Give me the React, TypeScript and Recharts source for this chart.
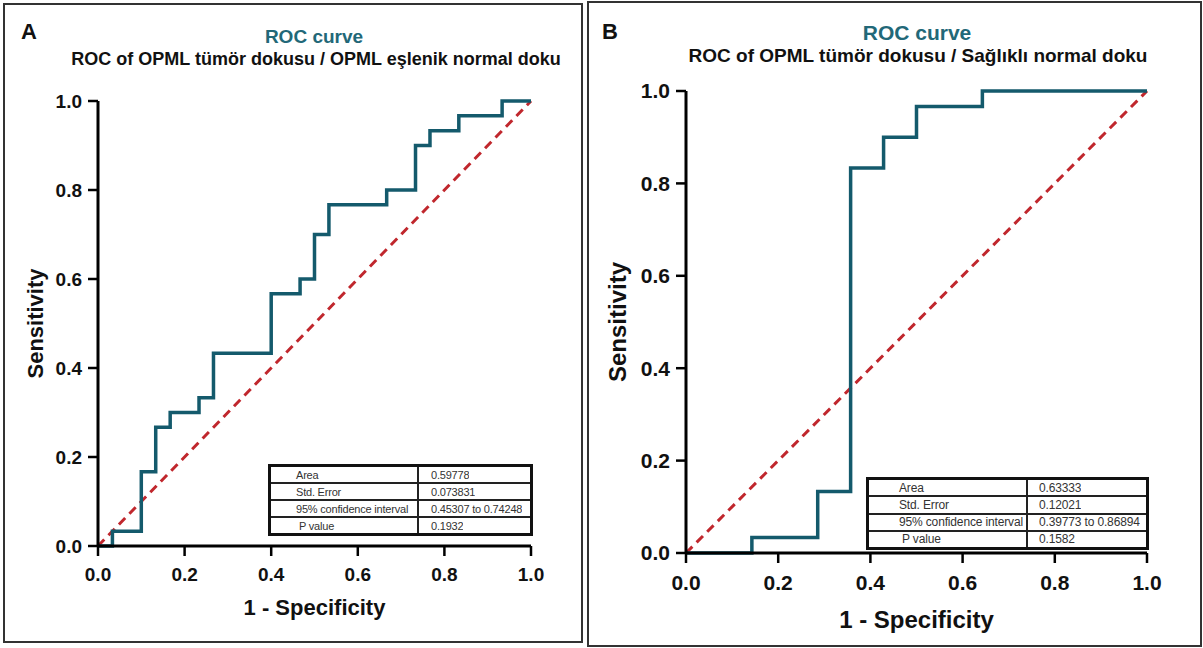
import { LineChart, Line, XAxis, YAxis, ReferenceLine } from 'recharts'

const FONT = '"Liberation Sans", Arial, Helvetica, sans-serif'
const TEAL = '#145a6c'
const TITLE_TEAL = '#226878'
const DIAG_RED = '#c0272d'

const TICKS = [0, 0.2, 0.4, 0.6, 0.8, 1.0]

// A: OPML tumour tissue vs matched normal tissue
const FPR_A = [0, 0.0333, 0.1, 0.1333, 0.1667, 0.2333, 0.2667, 0.4, 0.4667, 0.5, 0.5333, 0.6667, 0.7333, 0.7667, 0.8333, 0.9333, 1]
const TPR_A = [0, 0.0333, 0.1667, 0.2667, 0.3, 0.3333, 0.4333, 0.5667, 0.6, 0.7, 0.7667, 0.8, 0.9, 0.9333, 0.9667, 1, 1]

// B: OPML tumour tissue vs healthy normal tissue
const FPR_B = [0, 0.1429, 0.2857, 0.3571, 0.4286, 0.5, 0.6429, 1]
const TPR_B = [0, 0.0333, 0.1333, 0.8333, 0.9, 0.9667, 1, 1]

const STAT_LABELS = ['Area', 'Std. Error', '95% confidence interval', 'P value']
const STATS_A = ['0.59778', '0.073831', '0.45307 to 0.74248', '0.1932']
const STATS_B = ['0.63333', '0.12021', '0.39773 to 0.86894', '0.1582']

const DIAGONAL = [
  { x: 0, y: 0 },
  { x: 1, y: 1 },
]

const fmt = (v: number) => v.toFixed(1)

interface RocPanelProps {
  fpr: number[]
  tpr: number[]
  left: number
  width: number
  margin: { top: number; right: number; bottom: number; left: number }
  yAxisWidth: number
  xAxisHeight: number
  tickFont: number
  labelFont: number
  xLabelOffset: number
  yLabelOffset: number
}

function RocPanel(props: RocPanelProps) {
  const data = props.fpr.map((fpr, i) => ({ fpr, tpr: props.tpr[i] }))
  const tickStyle = { fill: '#111', fontSize: props.tickFont, fontWeight: 700, fontFamily: FONT }
  const labelStyle = { fill: '#111', fontSize: props.labelFont, fontWeight: 700, fontFamily: FONT }
  return (
    <div style={{ position: 'absolute', left: props.left, top: 0 }}>
      <LineChart width={props.width} height={648} data={data} margin={props.margin}>
        <XAxis
          type="number"
          dataKey="fpr"
          domain={[0, 1]}
          ticks={TICKS}
          tickFormatter={fmt}
          axisLine={{ stroke: '#000', strokeWidth: 3 }}
          tickLine={{ stroke: '#000', strokeWidth: 2.5 }}
          tickSize={10}
          tickMargin={12}
          height={props.xAxisHeight}
          tick={tickStyle}
          label={{ value: '1 - Specificity', position: 'insideBottom', offset: props.xLabelOffset, ...labelStyle }}
        />
        <YAxis
          type="number"
          domain={[0, 1]}
          ticks={TICKS}
          tickFormatter={fmt}
          axisLine={{ stroke: '#000', strokeWidth: 3 }}
          tickLine={{ stroke: '#000', strokeWidth: 2.5 }}
          tickSize={10}
          tickMargin={6}
          width={props.yAxisWidth}
          tick={tickStyle}
          label={{
            value: 'Sensitivity',
            angle: -90,
            position: 'insideLeft',
            offset: props.yLabelOffset,
            style: { textAnchor: 'middle' },
            ...labelStyle,
          }}
        />
        <ReferenceLine segment={DIAGONAL} stroke={DIAG_RED} strokeWidth={3} strokeDasharray="9 6" />
        <Line
          type="stepAfter"
          dataKey="tpr"
          stroke={TEAL}
          strokeWidth={3.5}
          dot={false}
          isAnimationActive={false}
        />
      </LineChart>
    </div>
  )
}

interface StatsTableProps {
  values: string[]
  left: number
  top: number
  width: number
  height: number
  split: number
  padLabel: number
  padValue: number
  fontSize: number
  spacing: number
}

function StatsTable(p: StatsTableProps) {
  return (
    <div
      style={{
        position: 'absolute',
        left: p.left,
        top: p.top,
        width: p.width,
        height: p.height,
        boxSizing: 'border-box',
        border: '3px solid #111',
        background: '#fff',
        display: 'flex',
        flexDirection: 'column',
        fontFamily: FONT,
        fontSize: p.fontSize,
        color: '#333',
        letterSpacing: p.spacing,
      }}
    >
      {STAT_LABELS.map((label, i) => (
        <div
          key={label}
          style={{
            flex: 1,
            display: 'flex',
            borderTop: i ? '2px solid #222' : 'none',
            overflow: 'hidden',
          }}
        >
          <div
            style={{
              width: p.split,
              flex: 'none',
              boxSizing: 'border-box',
              paddingLeft: p.padLabel + (i === 3 ? 3 : 0),
              borderRight: '2px solid #222',
              display: 'flex',
              alignItems: 'center',
              whiteSpace: 'nowrap',
              overflow: 'hidden',
            }}
          >
            {label}
          </div>
          <div
            style={{
              paddingLeft: p.padValue,
              display: 'flex',
              alignItems: 'center',
              whiteSpace: 'nowrap',
              overflow: 'hidden',
            }}
          >
            {p.values[i]}
          </div>
        </div>
      ))}
    </div>
  )
}

export default function App() {
  return (
    <div
      style={{
        position: 'absolute',
        left: 0,
        top: 0,
        width: 1203,
        height: 648,
        background: '#fff',
        fontFamily: FONT,
        overflow: 'hidden',
      }}
    >
      <div
        style={{
          position: 'absolute',
          left: 3,
          top: 3,
          width: 580,
          height: 640,
          boxSizing: 'border-box',
          border: '2px solid #333',
        }}
      />
      <div
        style={{
          position: 'absolute',
          left: 587,
          top: 1,
          width: 615,
          height: 646,
          boxSizing: 'border-box',
          border: '2px solid #333',
        }}
      />

      <RocPanel
        fpr={FPR_A}
        tpr={TPR_A}
        left={0}
        width={590}
        margin={{ top: 101, right: 59, bottom: 27, left: 20 }}
        yAxisWidth={78}
        xAxisHeight={75}
        tickFont={19}
        labelFont={22}
        xLabelOffset={6}
        yLabelOffset={15}
      />
      <RocPanel
        fpr={FPR_B}
        tpr={TPR_B}
        left={590}
        width={613}
        margin={{ top: 91, right: 56, bottom: 15, left: 16 }}
        yAxisWidth={80}
        xAxisHeight={80}
        tickFont={21}
        labelFont={24}
        xLabelOffset={5}
        yLabelOffset={11}
      />

      <svg
        width={1203}
        height={648}
        style={{ position: 'absolute', left: 0, top: 0, pointerEvents: 'none' }}
      >
        <g fontFamily={FONT} fontWeight={700}>
          <text x={21} y={39} fontSize={22} fill="#111">A</text>
          <text x={314} y={43} fontSize={19} fill={TITLE_TEAL} textAnchor="middle">ROC curve</text>
          <text x={316} y={65} fontSize={18} fill="#111" textAnchor="middle">
            ROC of OPML tümör dokusu / OPML eşlenik normal doku
          </text>
          <text x={602} y={39} fontSize={22} fill="#111">B</text>
          <text x={917} y={40} fontSize={21} fill={TITLE_TEAL} textAnchor="middle">ROC curve</text>
          <text x={918} y={62} fontSize={19} fill="#111" textAnchor="middle">
            ROC of OPML tümör dokusu / Sağlıklı normal doku
          </text>
        </g>
      </svg>

      <StatsTable
        values={STATS_A}
        left={268}
        top={464}
        width={265}
        height={72}
        split={148}
        padLabel={25}
        padValue={12}
        fontSize={11}
        spacing={-0.2}
      />
      <StatsTable
        values={STATS_B}
        left={866}
        top={477}
        width={283}
        height={73}
        split={159}
        padLabel={30}
        padValue={11}
        fontSize={12}
        spacing={-0.15}
      />
    </div>
  )
}
